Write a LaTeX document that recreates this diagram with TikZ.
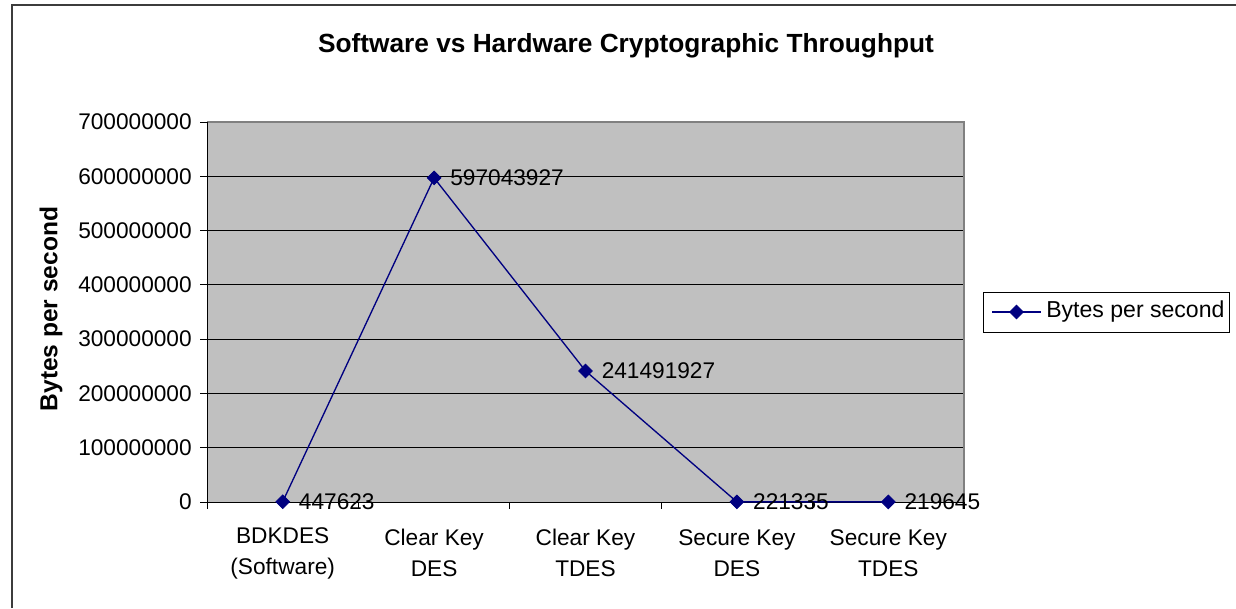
\documentclass[tikz,border=0pt]{standalone}
\usepackage{fontspec}
\setmainfont{Liberation Sans}
\usetikzlibrary{shapes.geometric}
\definecolor{plotgray}{RGB}{192,192,192}
\definecolor{edgegray}{RGB}{128,128,128}
\definecolor{seriesblue}{RGB}{0,0,128}
\definecolor{framegray}{RGB}{60,60,60}
\begin{document}
\begin{tikzpicture}[x=0.75pt,y=-0.75pt,
  frame/.style={draw=framegray,line width=1.5pt},
  gridline/.style={draw=black,line width=0.75pt},
  axisline/.style={draw=black,line width=0.75pt},
  series/.style={draw=seriesblue,line width=1pt},
  marker/.style={diamond,fill=seriesblue,draw=seriesblue,line width=0.6pt,inner sep=0pt,minimum width=10.5pt,minimum height=10.5pt},
  ticklabel/.style={font=\fontsize{17}{20}\selectfont,inner sep=0pt},
  datalabel/.style={font=\fontsize{17}{20}\selectfont,inner sep=0pt,anchor=west},
  catlabel/.style={font=\fontsize{17}{23.25}\selectfont,align=center,inner sep=0pt},
  titlestyle/.style={font=\fontsize{19.7}{24}\selectfont\bfseries,inner sep=0pt},
  legendbox/.style={draw=black,line width=0.75pt,fill=white}
]
\useasboundingbox (0,0) rectangle (1236,608);

% chart frame (open to the right and bottom)
\draw[frame] (12,608) -- (12,5) -- (1236,5);

% title
\node[titlestyle] (title) at (626,46) {Software vs Hardware Cryptographic Throughput};

% plot area
\fill[plotgray] (207,122) rectangle (964,502);
\foreach \k in {1,...,7}{
  \draw[gridline] (207,{502-\k*54.2857}) -- (964,{502-\k*54.2857});
}
\draw[edgegray,line width=0.9pt] (207,122) -- (964,122) -- (964,502);

% axes and ticks
\draw[axisline] (207,122) -- (207,502) -- (964,502);
\foreach \k/\lab in {0/0,1/100000000,2/200000000,3/300000000,4/400000000,5/500000000,6/600000000,7/700000000}{
  \draw[axisline] (200,{502-\k*54.2857}) -- (207,{502-\k*54.2857});
  \node[ticklabel,anchor=east] (ytick\k) at (192,{502-\k*54.2857}) {\lab};
}
\foreach \i in {0,...,5}{
  \draw[axisline] ({207+\i*151.4},502) -- ({207+\i*151.4},509);
}

% axis label
\node[font=\fontsize{18.4}{22}\selectfont\bfseries,rotate=90,inner sep=0pt] (ylab) at (51,309) {Bytes per second};

% category labels
\node[catlabel] (c1) at (282.7,553) {BDKDES\\(Software)};
\node[catlabel] (c2) at (434.1,553) {Clear Key\\DES};
\node[catlabel] (c3) at (585.5,553) {Clear Key\\TDES};
\node[catlabel] (c4) at (736.9,553) {Secure Key\\DES};
\node[catlabel] (c5) at (888.3,553) {Secure Key\\TDES};

% data series
\coordinate (p1) at (282.7,501.7);
\coordinate (p2) at (434.1,177.9);
\coordinate (p3) at (585.5,370.9);
\coordinate (p4) at (736.9,501.9);
\coordinate (p5) at (888.3,501.9);
\draw[series] (p1) -- (p2) -- (p3) -- (p4) -- (p5);
\foreach \n in {1,...,5}{
  \node[marker] (m\n) at (p\n) {};
}
\node[datalabel] (d1) at ([xshift=12pt]p1) {447623};
\node[datalabel] (d2) at ([xshift=12pt]p2) {597043927};
\node[datalabel] (d3) at ([xshift=12pt]p3) {241491927};
\node[datalabel] (d4) at ([xshift=12pt]p4) {221335};
\node[datalabel] (d5) at ([xshift=12pt]p5) {219645};

% legend
\draw[legendbox] (983,292) rectangle (1229,332);
\coordinate (la) at (992,312);
\coordinate (lb) at (1041,312);
\draw[series] (la) -- (lb);
\node[marker] (lm) at (1016.5,312) {};
\node[datalabel,font=\fontsize{17.3}{20}\selectfont] (lt) at (1046,312) {Bytes per second};
\end{tikzpicture}
\end{document}
